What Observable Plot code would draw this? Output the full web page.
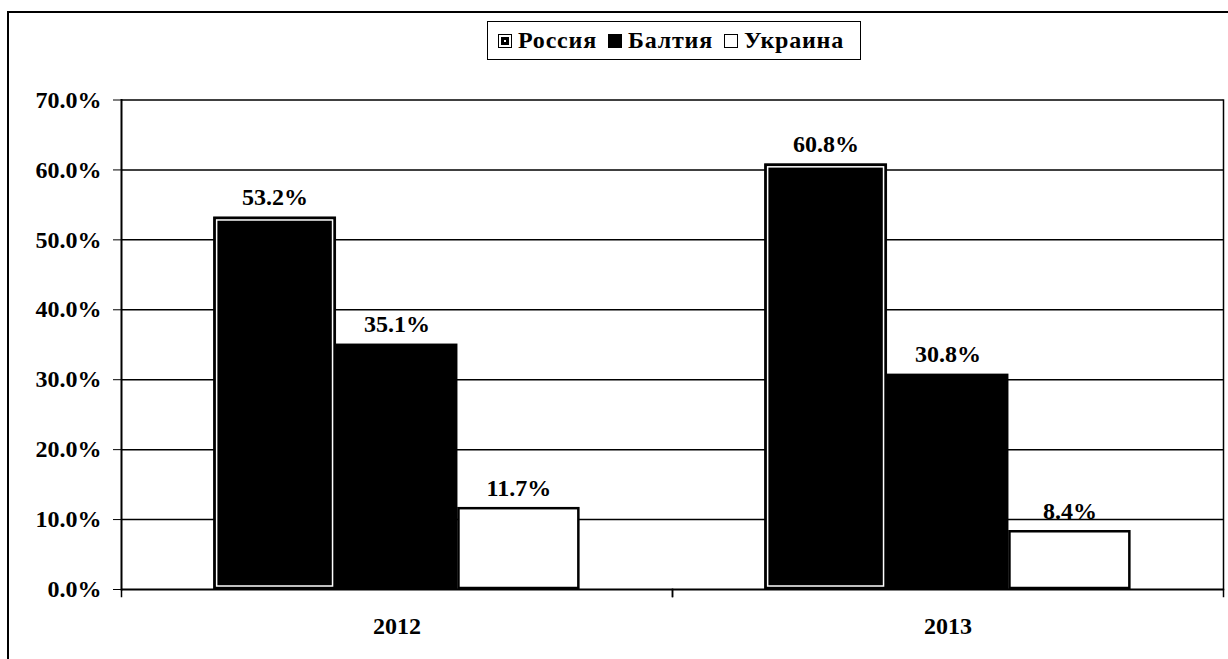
<!DOCTYPE html>
<html>
<head>
<meta charset="utf-8">
<script src="https://cdn.jsdelivr.net/npm/d3@7"></script>
<script src="https://cdn.jsdelivr.net/npm/@observablehq/plot@0.6"></script>
<style>
  html, body { margin:0; padding:0; background:#fff; width:1228px; height:659px; overflow:hidden; }
  #wrap { position:relative; width:1228px; height:659px; font-family:"Liberation Serif", "DejaVu Serif", serif; font-weight:bold; color:#000; }
  #border { position:absolute; left:7px; top:11px; width:1260px; height:700px; border-top:2px solid #000; border-left:2px solid #000; }
  #chart { position:absolute; left:0; top:0; }
  #legend { position:absolute; left:487px; top:21px; width:362px; height:37px; padding:0 0 0 10px; box-sizing:content-box; border:1.5px solid #000; background:#fff;
            display:flex; align-items:center; gap:11px; font-size:24px; letter-spacing:0.8px; white-space:nowrap; z-index:2; }
  .sw { display:inline-block; width:14px; height:14px; border:1.5px solid #000; box-sizing:border-box; margin-right:6px; }
  .item { display:flex; align-items:center; }
</style>
</head>
<body>
<div id="wrap">
  <div id="border"></div>
  <div id="chart"></div>
  <div id="legend"></div>
</div>
<script>
const years = ["2012", "2013"];
const seriesNames = ["Россия", "Балтия", "Украина"];
const russia = [0.532, 0.608];
const baltic = [0.351, 0.308];
const ukraine = [0.117, 0.084];
const yTicks = [0, 0.1, 0.2, 0.3, 0.4, 0.5, 0.6, 0.7];

const seriesValues = [russia, baltic, ukraine];
const data = years.flatMap((yr, i) => seriesNames.map((s, j) => ({year: yr, series: s, value: seriesValues[j][i]})));
const fmt = d3.format(".1%");

const W = 1228, H = 659, mTop = 99.5, mBottom = 70;
const plotH = H - mTop - mBottom;

const chart = Plot.plot({
  width: W, height: H,
  marginTop: mTop, marginBottom: mBottom, marginLeft: 120, marginRight: 5,
  style: {fontFamily: "'Liberation Serif', 'DejaVu Serif', serif", fontWeight: "bold", fontSize: "24px", color: "#000", background: "transparent"},
  fx: {domain: years, padding: 0, label: null, tickSize: 0, tickPadding: 27},
  x: {domain: seriesNames, paddingInner: 0, paddingOuter: 0.76, axis: null, round: false},
  y: {domain: [0, 0.7], ticks: yTicks, tickFormat: fmt, tickSize: 8, tickPadding: 12, label: null},
  marks: [
    Plot.ruleY(yTicks.slice(1), {stroke: "#000", strokeWidth: 1.5}),
    Plot.barY(data.filter(d => d.series === "Россия"), {fx: "year", x: "series", y: "value", fill: "#000", stroke: "#000", strokeWidth: 1}),
    Plot.barY(data.filter(d => d.series === "Россия"), {fx: "year", x: "series", y: "value", inset: 3, fill: "none", stroke: "#fff", strokeWidth: 1.5}),
    Plot.barY(data.filter(d => d.series === "Балтия"), {fx: "year", x: "series", y: "value", fill: "#000"}),
    Plot.barY(data.filter(d => d.series === "Украина"), {fx: "year", x: "series", y: "value", fill: "#fff", stroke: "#000", strokeWidth: 2.5, inset: 1}),
    Plot.ruleY([0], {stroke: "#000", strokeWidth: 2}),
    Plot.frame({anchor: "left", facet: "super", stroke: "#000", strokeWidth: 2}),
    Plot.frame({anchor: "right", facet: "super", stroke: "#000", strokeWidth: 1.5}),
    Plot.frame({anchor: "left", insetTop: plotH, insetBottom: -7, stroke: "#000", strokeWidth: 1.5}),
    Plot.frame({anchor: "right", insetTop: plotH, insetBottom: -7, stroke: "#000", strokeWidth: 1.5}),
    Plot.text(data, {fx: "year", x: "series", y: "value", text: d => fmt(d.value), lineAnchor: "bottom", dy: -12, fontSize: 24, fontWeight: "bold", fill: "#000"})
  ]
});
document.getElementById("chart").appendChild(chart);

// Legend
const legend = document.getElementById("legend");
const swatchStyles = [
  "background:#fff; box-shadow: inset 0 0 0 2px #fff, inset 0 0 0 5px #000;",
  "background:#000;",
  "background:#fff;"
];
seriesNames.forEach((s, i) => {
  const item = document.createElement("span");
  item.className = "item";
  const sw = document.createElement("span");
  sw.className = "sw";
  sw.style.cssText = swatchStyles[i];
  item.appendChild(sw);
  item.appendChild(document.createTextNode(s));
  legend.appendChild(item);
});
</script>
</body>
</html>
